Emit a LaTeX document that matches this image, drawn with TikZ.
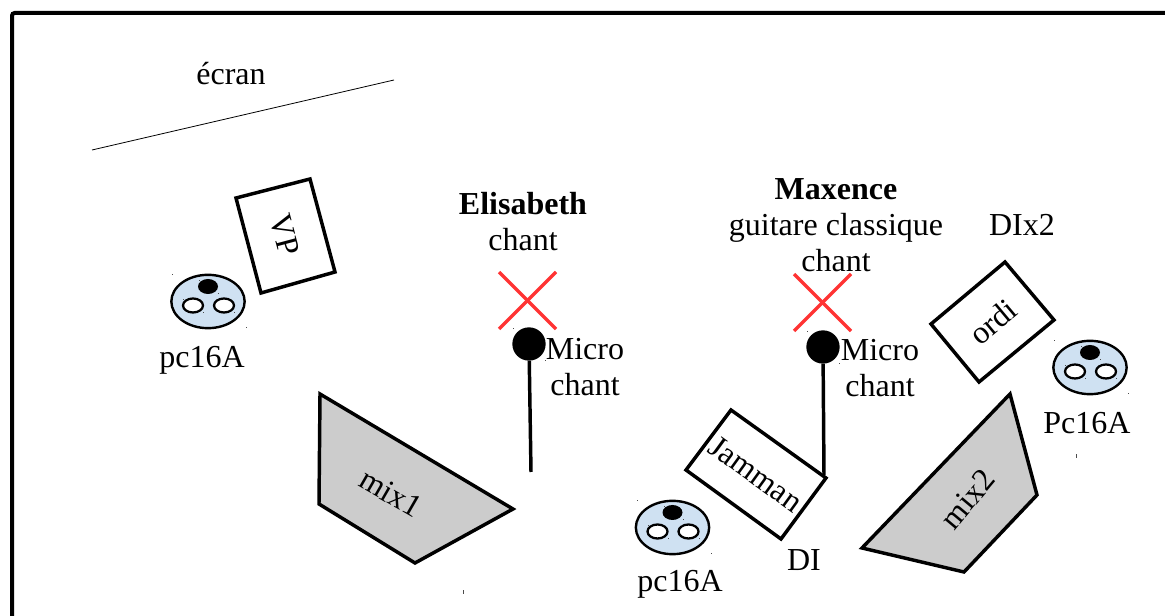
\documentclass[tikz,border=0pt]{standalone}
\usepackage{fontspec}
\setmainfont{Liberation Serif}
\usetikzlibrary{shapes.geometric}
\definecolor{boxblue}{RGB}{207,225,242}
\definecolor{mixgray}{RGB}{204,204,204}
\definecolor{crossred}{RGB}{255,51,51}
\tikzset{
  every node/.style={font=\fontsize{24}{27}\selectfont, align=center, inner sep=0pt},
  part/.style={draw, line width=2.6pt, line join=miter},
  pcbody/.style={ellipse, draw, line width=1.8pt, fill=boxblue, minimum width=55pt, minimum height=40pt},
  pic16/.pic={
    \node[pcbody] (-body) at (0,0) {};
    \fill (0,-15) ellipse (10 and 7.5);
    \draw[fill=white, line width=1.7pt] (-15,4) ellipse (10 and 7);
    \draw[fill=white, line width=1.7pt] (16,4) ellipse (10 and 7);
    \foreach \sx/\sy in {-36/-27, 38/26, -9/-21, 10/-8, -25/-2, -5/11, 8/-2, 26/11}
      \fill[black!70] (\sx,\sy) rectangle ++(1,1);
  }
}

\begin{document}
\begin{tikzpicture}[x=0.75pt, y=-0.75pt]
\useasboundingbox (0,0) rectangle (1165,616);

% Drawing frame
\draw[line width=3pt, rounded corners=2pt] (12,616) -- (12,13) -- (1165,13);

% Drawing screen
\coordinate (ecranA) at (92,150);
\coordinate (ecranB) at (394,80);
\draw[line width=0.6pt] (ecranA) -- (ecranB);
\node (ecran) at (231,74) {écran};

% Drawing boxes
\draw[part] (236,198) -- (310,179) -- (335,272) -- (261,293) -- cycle;
\node[rotate=-75] (vp) at (285,235) {VP};
\draw[part] (1005,262) -- (1054,320) -- (979,382) -- (931,324) -- cycle;
\node[rotate=40] (ordi) at (993,322) {ordi};
\draw[part] (731,410) -- (826,478) -- (781,539) -- (686,470) -- cycle;
\node[rotate=-36] (jamman) at (756,474) {Jamman};

% Drawing mixers
\draw[part, fill=mixgray] (320,394) -- (513,509) -- (415,563) -- (319,504) -- cycle;
\node[rotate=-30] (mixA) at (391,493) {mix1};
\draw[part, fill=mixgray] (1010,394) -- (1037,495) -- (964,572) -- (862,548) -- cycle;
\node[rotate=50] (mixB) at (968,499) {mix2};

% Drawing stage boxes
\pic at (208,301.5) {pic16};
\pic at (672.5,527.5) {pic16};
\pic at (1090,367.5) {pic16};
\node (pcA) at (202,360) {pc16A};
\node (pcB) at (680,584) {pc16A};
\node (pcC) at (1087,423) {Pc16A};
\node (di) at (804,560) {DI};
\node (dix) at (1022,225) {DIx2};

% Drawing singers
\node (elisabeth) at (523,222) {\textbf{Elisabeth}\\chant};
\node (maxence) at (836,225) {\textbf{Maxence}\\guitare classique\\chant};

% Drawing crosses
\draw[crossred, line width=2.4pt] (499,272) -- (556,329);
\draw[crossred, line width=2.4pt] (556,272) -- (499,329);
\draw[crossred, line width=2.4pt] (794,274) -- (851,331);
\draw[crossred, line width=2.4pt] (851,274) -- (794,331);

% Drawing microphones
\node[circle, fill=black, minimum size=25pt] (micA) at (529,344) {};
\node[circle, fill=black, minimum size=25pt] (micB) at (823,347) {};
\coordinate (standA) at (531,472);
\coordinate (standB) at (824,475);
\draw[line width=2.6pt] (micA) -- (standA);
\draw[line width=2.6pt] (micB) -- (standB);
\node (micAlabel) at (585,367) {Micro\\chant};
\node (micBlabel) at (880,368.5) {Micro\\chant};

% Drawing stray marks
\fill[black!70] (463,590) rectangle ++(1,4);
\fill[black!70] (1076,454) rectangle ++(1,4);
\fill[black!70] (513,328) rectangle ++(1,1);
\fill[black!70] (545,360) rectangle ++(1,1);
\fill[black!70] (807,331) rectangle ++(1,1);
\fill[black!70] (839,363) rectangle ++(1,1);
\end{tikzpicture}
\end{document}
